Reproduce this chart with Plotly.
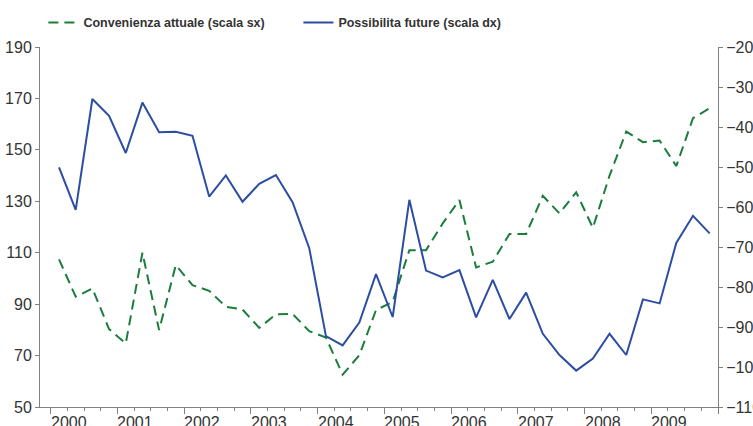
import plotly.graph_objects as go

# quarterly data, 2000Q1 - 2009Q4
years = list(range(2000, 2010))
quarters = [y + (q + 0.5) / 4 for y in years for q in range(4)]

convenienza = [107.4, 92.9, 96.1, 80.3, 74.7, 110.0, 79.9, 105.2,
               97.4, 95.2, 89.0, 87.9, 80.8, 86.0, 86.2, 79.5,
               77.0, 62.6, 70.1, 87.7, 90.9, 111.0, 111.0, 121.4,
               130.5, 104.3, 106.5, 117.3, 117.3, 132.1, 125.3, 133.5,
               119.7, 140.0, 157.1, 153.0, 153.6, 143.7, 162.3, 166.2]

possibilita = [-50.1, -60.7, -33.0, -37.2, -46.5, -33.9, -41.3, -41.2,
               -42.2, -57.4, -52.1, -58.7, -54.2, -52.0, -58.8, -70.3,
               -92.3, -94.6, -88.9, -76.8, -87.5, -58.2, -75.9, -77.6,
               -75.8, -87.6, -78.2, -88.0, -81.4, -91.7, -97.0, -100.9,
               -97.9, -91.7, -97.0, -83.1, -84.1, -69.0, -62.2, -66.6]

left_ticks = list(range(50, 191, 20))
right_ticks = list(range(-110, -19, 10))

GREEN = "#1b7d3c"
BLUE = "#2b4ea2"
AXIS = "#808080"
TXT = "#333333"
FONT = "Liberation Sans, Arial, sans-serif"

fig = go.Figure()
fig.add_trace(go.Scatter(x=quarters, y=convenienza, name="Convenienza attuale (scala sx)",
                         mode="lines", line=dict(color=GREEN, width=2, dash="10px,6px")))
fig.add_trace(go.Scatter(x=quarters, y=possibilita, name="Possibilita future (scala dx)",
                         mode="lines", line=dict(color=BLUE, width=2), yaxis="y2"))

# year labels sit to the right of each year tick
for y in years:
    fig.add_annotation(x=y + 0.27, y=0, xref="x", yref="paper", yanchor="top",
                       yshift=-5, text=str(y), showarrow=False,
                       font=dict(family=FONT, size=16, color=TXT))

fig.update_layout(
    width=753, height=426,
    margin=dict(l=40, r=35, t=47, b=19, autoexpand=False),
    plot_bgcolor="white", paper_bgcolor="white",
    font=dict(family=FONT, size=16, color=TXT),
    showlegend=True,
    legend=dict(orientation="h", x=0.005, xanchor="left", y=1.067, yanchor="middle",
                entrywidth=210, entrywidthmode="pixels",
                font=dict(family=FONT, size=12.5, color=TXT, weight="bold"),
                bgcolor="rgba(0,0,0,0)"),
    xaxis=dict(range=[1999.84, 2010.0], tickvals=years + [2010], showticklabels=False,
               ticks="outside", ticklen=6, tickcolor=AXIS, showline=True, linecolor=AXIS,
               linewidth=1, showgrid=False, zeroline=False,
               minor=dict(dtick=0.25, tick0=2000, ticks="outside", ticklen=3, tickcolor=AXIS)),
    yaxis=dict(range=[50, 190], tickvals=left_ticks, ticks="outside", ticklen=4,
               tickcolor=AXIS, showline=True, linecolor=AXIS, linewidth=1,
               showgrid=False, zeroline=False, tickfont=dict(size=16, color=TXT)),
    yaxis2=dict(range=[-110, -20], tickvals=right_ticks, overlaying="y", side="right",
                ticks="outside", ticklen=4, tickcolor=AXIS, showline=True, linecolor=AXIS,
                linewidth=1, showgrid=False, zeroline=False, tickfont=dict(size=16, color=TXT)),
)

fig.write_html("out.html", config={"displayModeBar": False},
               post_script="document.body.style.margin='0';")
